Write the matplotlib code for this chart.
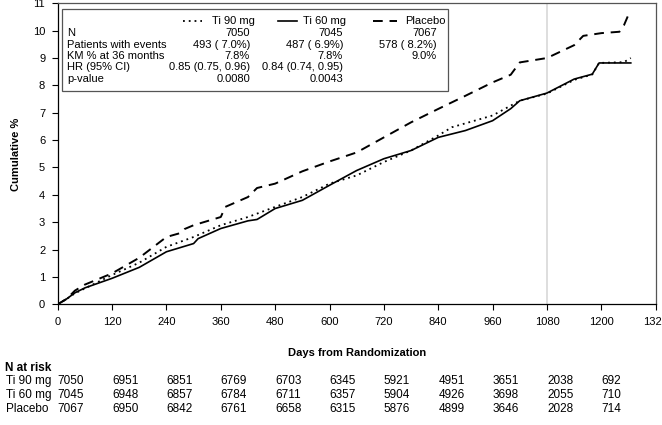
import numpy as np
import matplotlib
matplotlib.use("Agg")
import matplotlib.pyplot as plt
import matplotlib.transforms as mtransforms
from matplotlib.lines import Line2D
from matplotlib.patches import Rectangle

plt.rcParams["font.family"] = ["Liberation Sans", "DejaVu Sans"]
plt.rcParams["font.size"] = 8

# 曲线数据
ti90_days = [0, 20, 38, 60, 120, 180, 240, 300, 360, 420, 480, 540, 600, 660, 720,
             780, 840, 870, 960, 1000, 1020, 1080, 1140, 1180, 1195, 1250, 1265]
ti90_vals = [0, 0.2, 0.4, 0.58, 1.07, 1.52, 2.1, 2.46, 2.89, 3.19, 3.56, 3.92, 4.41, 4.71, 5.2,
             5.62, 6.17, 6.47, 6.9, 7.26, 7.44, 7.7, 8.2, 8.4, 8.82, 8.85, 9.0]

ti60_days = [0, 20, 38, 60, 120, 180, 240, 300, 310, 360, 420, 440, 480, 540, 600, 660,
             720, 780, 840, 900, 960, 1000, 1020, 1080, 1140, 1180, 1195, 1265]
ti60_vals = [0, 0.2, 0.42, 0.6, 0.95, 1.35, 1.92, 2.22, 2.4, 2.77, 3.05, 3.1, 3.5, 3.8, 4.35, 4.89,
             5.32, 5.62, 6.1, 6.35, 6.71, 7.15, 7.44, 7.72, 8.23, 8.41, 8.82, 8.82]

pbo_days = [0, 20, 38, 60, 120, 180, 240, 270, 280, 300, 360, 370, 420, 440, 480, 540, 600,
            660, 720, 780, 840, 900, 960, 1000, 1020, 1080, 1140, 1160, 1200, 1240, 1250, 1259]
pbo_vals = [0, 0.2, 0.5, 0.72, 1.13, 1.7, 2.46, 2.6, 2.75, 2.89, 3.19, 3.56, 3.92, 4.25, 4.41, 4.86, 5.22,
            5.55, 6.1, 6.65, 7.14, 7.62, 8.11, 8.39, 8.84, 9.0, 9.47, 9.81, 9.91, 9.96, 10.2, 10.55]

# 图例表格
groups = ["Ti 90 mg", "Ti 60 mg", "Placebo"]
row_names = ["N", "Patients with events", "KM % at 36 months", "HR (95% CI)", "p-value"]
table_vals = [
    ["7050", "7045", "7067"],
    ["493 ( 7.0%)", "487 ( 6.9%)", "578 ( 8.2%)"],
    ["7.8%", "7.8%", "9.0%"],
    ["0.85 (0.75, 0.96)", "0.84 (0.74, 0.95)", ""],
    ["0.0080", "0.0043", ""],
]

# 风险人数
risk_days = np.arange(0, 1201, 120)
risk_labels = ["Ti 90 mg", "Ti 60 mg", "Placebo"]
risk_ti90 = [7050, 6951, 6851, 6769, 6703, 6345, 5921, 4951, 3651, 2038, 692]
risk_ti60 = [7045, 6948, 6857, 6784, 6711, 6357, 5904, 4926, 3698, 2055, 710]
risk_pbo = [7067, 6950, 6842, 6761, 6658, 6315, 5876, 4899, 3646, 2028, 714]

W, H = 662, 425
fig = plt.figure(figsize=(W / 100, H / 100), dpi=100)


def fx(px):
    return px / W


def fy(py):
    return 1 - py / H


ax = fig.add_axes([fx(57.7), fy(304.3), fx(655.7) - fx(57.7), fy(3.3) - fy(304.3)])

styles = [dict(color="black", lw=1.3, linestyle=(0, (1, 2.2))),
          dict(color="black", lw=1.2, linestyle="-"),
          dict(color="black", lw=1.4, linestyle=(0, (5, 3.5)))]

ax.axvline(1080, color="#d8d8d8", lw=1.2, zorder=0)
ax.plot(ti90_days, ti90_vals, **styles[0])
ax.plot(ti60_days, ti60_vals, **styles[1])
ax.plot(pbo_days, pbo_vals, **styles[2])

ax.set_xlim(0, 1320)
ax.set_ylim(0, 11)
ax.set_xticks(np.arange(0, 1321, 120))
ax.set_yticks(np.arange(0, 12, 1))
ax.tick_params(direction="out", length=4, width=0.8, labelsize=8, pad=5)
for s in ax.spines.values():
    s.set_color("#555555")
    s.set_linewidth(0.9)
ax.spines["left"].set_color("black")
ax.spines["bottom"].set_color("black")

fig.text(fx(16), fy(154), "Cumulative %", fontsize=8, fontweight="bold",
         rotation=90, ha="center", va="center")
fig.text(fx(356.7), fy(353), "Days from Randomization", fontsize=8, fontweight="bold",
         ha="center", va="center")

# 图例框
fig.patches.append(Rectangle((fx(62), fy(91)), fx(448) - fx(62), fy(9) - fy(91),
                             transform=fig.transFigure, fill=False,
                             edgecolor="#555555", lw=0.9))
line_x = [(183, 202), (278, 297), (373, 397)]
label_x = [212, 303, 405]
for i, g in enumerate(groups):
    fig.lines.append(Line2D([fx(line_x[i][0]), fx(line_x[i][1])], [fy(21), fy(21)],
                            transform=fig.transFigure, **styles[i]))
    fig.text(fx(label_x[i]), fy(21), g, fontsize=8, va="center", ha="left")

row_y = [33, 44.5, 56, 67.5, 79]
col_right = [250, 343, 437]
for r, name in enumerate(row_names):
    fig.text(fx(67), fy(row_y[r]), name, fontsize=8, va="center", ha="left")
    for c in range(3):
        fig.text(fx(col_right[c]), fy(row_y[r]), table_vals[r][c], fontsize=8,
                 va="center", ha="right")

# 风险表
trans = mtransforms.blended_transform_factory(ax.transData, fig.transFigure)
fig.text(fx(5), fy(368), "N at risk", fontsize=8.5, fontweight="bold", va="center", ha="left")
risk_rows = [risk_ti90, risk_ti60, risk_pbo]
risk_y = [381, 395, 409]
for r, row in enumerate(risk_rows):
    fig.text(fx(6), fy(risk_y[r]), risk_labels[r], fontsize=8.5, va="center", ha="left")
    for d, n in zip(risk_days, row):
        ax.text(d, fy(risk_y[r]), str(n), fontsize=8.5, va="center", ha="left",
                transform=trans, clip_on=False)

fig.savefig("out.png", dpi=100)
